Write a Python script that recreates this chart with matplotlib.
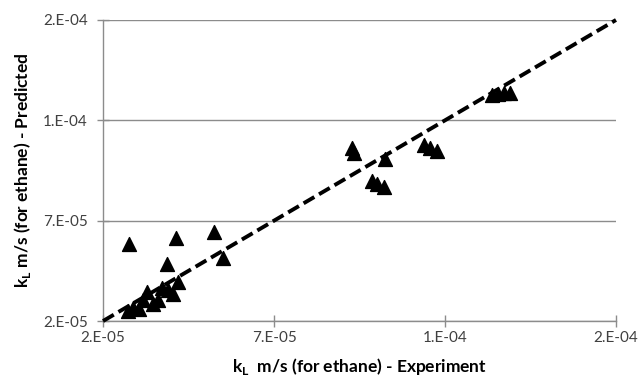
import matplotlib
matplotlib.use("Agg")
import matplotlib.pyplot as plt
from matplotlib.ticker import FixedLocator, FuncFormatter

plt.rcParams['font.family'] = ['Lato', 'DejaVu Sans']

# Measured vs. predicted liquid-side mass transfer coefficient (m/s)
kl_experiment = [
    2.76e-5, 4.13e-5, 5.25e-5, 3.87e-5, 5.51e-5, 4.19e-5, 4.05e-5, 3.61e-5,
    3.29e-5, 3.17e-5, 2.88e-5, 2.73e-5, 3.05e-5, 3.73e-5, 3.46e-5, 3.90e-5,
    9.28e-5, 9.34e-5, 1.025e-4, 9.87e-5, 1.001e-4, 1.022e-4,
    1.139e-4, 1.156e-4, 1.177e-4,
    1.337e-4, 1.355e-4, 1.373e-4, 1.390e-4,
]
kl_predicted = [
    5.84e-5, 6.14e-5, 6.44e-5, 4.84e-5, 5.14e-5, 3.94e-5, 3.35e-5, 3.05e-5,
    3.45e-5, 3.05e-5, 2.65e-5, 2.50e-5, 2.60e-5, 3.65e-5, 2.85e-5, 3.55e-5,
    1.062e-4, 1.037e-4, 1.008e-4, 8.98e-5, 8.83e-5, 8.68e-5,
    1.077e-4, 1.062e-4, 1.047e-4,
    1.327e-4, 1.332e-4, 1.337e-4, 1.337e-4,
]
parity_line = [2e-5, 1.7e-4]
axis_ticks = [2e-5, 7e-5, 1.2e-4, 1.7e-4]

fig = plt.figure(figsize=(6.4, 3.84), dpi=100)
ax = fig.add_axes([0.161, 0.164, 0.8015, 0.784])

grey = '#8c8c8c'
ax.set_xlim(axis_ticks[0], axis_ticks[-1])
ax.set_ylim(axis_ticks[0], axis_ticks[-1])
ax.xaxis.set_major_locator(FixedLocator(axis_ticks))
ax.yaxis.set_major_locator(FixedLocator(axis_ticks))

def excel_sci(v, pos):
    m, e = f"{v:.0E}".split("E")
    return f"{m}.E{e[0]}{int(e[1:]):02d}"

fmt = FuncFormatter(excel_sci)
ax.xaxis.set_major_formatter(fmt)
ax.yaxis.set_major_formatter(fmt)

ax.grid(axis='y', color=grey, linewidth=1.0)
ax.set_axisbelow(True)
for side in ('top', 'right'):
    ax.spines[side].set_visible(False)
for side in ('left', 'bottom'):
    ax.spines[side].set_color(grey)
    ax.spines[side].set_linewidth(1.0)
ax.tick_params(direction='inout', length=8, width=1.0, color=grey,
               labelsize=11, labelcolor='#404040', pad=3)
ax.tick_params(axis='y', pad=7)

ax.scatter(kl_experiment, kl_predicted, marker='^', s=100, color='black',
           zorder=3, clip_on=False)
ax.plot(parity_line, parity_line, color='black', linewidth=2.8,
        linestyle=(0, (3.2, 1.4)), zorder=4, clip_on=False)

ax.set_xlabel(r'k$_\mathregular{L}$  m/s (for ethane) - Experiment',
              fontsize=12.5, fontweight='bold', labelpad=8)
ax.set_ylabel(r'k$_\mathregular{L}$ m/s (for ethane) - Predicted',
              fontsize=12.5, fontweight='bold', labelpad=7)

fig.savefig('out.png', dpi=100)
